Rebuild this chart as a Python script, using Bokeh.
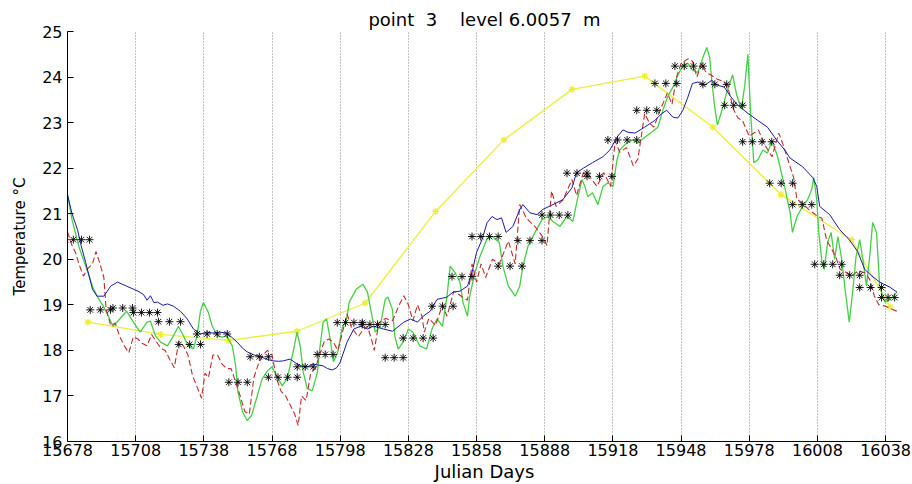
import numpy as np
from bokeh.plotting import figure
from bokeh.models import FixedTicker, Range1d
from bokeh.embed import file_html
from bokeh.resources import INLINE

# ---------------- data ----------------
x_ticks = [15678, 15708, 15738, 15768, 15798, 15828, 15858, 15888, 15918, 15948, 15978, 16008, 16038]
y_ticks = [16, 17, 18, 19, 20, 21, 22, 23, 24, 25]

blue_day = [15678, 15680, 15682.4, 15684, 15686, 15689, 15691, 15694, 15697, 15700, 15704, 15709, 15711.4, 15713,
            15714.5, 15716, 15717.6, 15720, 15722, 15724.6, 15727.7, 15730.7, 15733.4, 15736.5, 15739.5, 15742,
            15745, 15748, 15750, 15752.7, 15755, 15757, 15760, 15763, 15766, 15768.5, 15771, 15773, 15776, 15779,
            15781, 15783.5, 15786, 15788, 15790.5, 15792.5, 15794.5, 15796.5, 15798, 15801, 15804, 15807, 15810,
            15812.5, 15815, 15817, 15821, 15826, 15829, 15832, 15834.5, 15837.6, 15840.6, 15845, 15847.7, 15850.7,
            15854, 15856, 15858, 15860.4, 15862.6, 15864.8, 15867, 15869, 15871, 15874, 15877, 15878.4, 15881.5,
            15884.6, 15887, 15891.6, 15896, 15900, 15902, 15905, 15909, 15913.6, 15916.7, 15919.8, 15922.4, 15924.6,
            15927.7, 15932, 15936.5, 15939.5, 15941.7, 15944.4, 15946.6, 15948.8, 15951, 15953, 15955.4, 15958.4,
            15961.5, 15964, 15967, 15970, 15973, 15977.5, 15981.7, 15986, 15990, 15993.6, 15996, 16001.5, 16006,
            16007.7, 16009, 16013.4, 16017.8, 16022, 16025.7, 16028.8, 16032, 16035.4, 16039.8, 16043]
blue_temp = [21.42, 21.0, 20.65, 20.3, 19.93, 19.34, 19.19, 19.19, 19.41, 19.5, 19.41, 19.3, 19.23, 19.1,
             19.2, 19.05, 19.06, 18.99, 19.02, 18.97, 18.86, 18.69, 18.47, 18.36, 18.4, 18.38,
             18.4, 18.38, 18.3, 18.18, 18.05, 17.97, 17.9, 17.86, 17.8, 17.77, 17.76, 17.77, 17.81, 17.7,
             17.66, 17.64, 17.7, 17.68, 17.66, 17.6, 17.57, 17.62, 17.74, 18.18, 18.47, 18.53, 18.47,
             18.53, 18.5, 18.47, 18.42, 18.62, 18.69, 18.62, 18.75, 18.86, 19.12, 19.17, 19.28, 19.3,
             19.41, 19.71, 20.15, 20.43, 20.8, 20.94, 20.87, 20.91, 20.59, 20.72, 21.09, 21.2, 21.02,
             20.98, 21.09, 21.2, 21.31, 21.57, 21.9, 22.0, 22.12, 22.25, 22.4, 22.68, 22.84, 22.79,
             22.77, 22.9, 23.05, 23.2, 23.27, 23.12, 23.1, 23.27, 23.56, 23.86, 23.89, 23.82,
             23.93, 23.82, 23.78, 23.56, 23.38, 23.2, 23.05, 22.9, 22.62, 22.4, 22.22, 22.03, 21.79,
             21.6, 21.16, 20.98, 20.65, 20.43, 20.17, 19.78, 19.63, 19.5, 19.39, 19.28]

green_day = [15678, 15680, 15683, 15686, 15689, 15691, 15694, 15696, 15698, 15701, 15704, 15707, 15710, 15713,
             15714.5, 15716.7, 15719, 15722, 15724.6, 15726.8, 15729, 15731, 15733.4, 15735, 15736.5, 15737.8,
             15740, 15741.7, 15744, 15746, 15748, 15750.5, 15752, 15753, 15755, 15757, 15759, 15761.5, 15763.7,
             15766, 15768, 15770, 15772.5, 15774.7, 15777.3, 15779, 15780.4, 15781.7, 15783.5, 15785.7, 15788,
             15789, 15790.5, 15792, 15793.6, 15795, 15797, 15799, 15800.5, 15802, 15805, 15808, 15810, 15812,
             15813.4, 15815.6, 15817.8, 15819, 15821, 15822, 15823.5, 15825.7, 15828, 15830, 15833, 15836,
             15838.4, 15840.6, 15843, 15845, 15846.4, 15848.5, 15850.7, 15852, 15854, 15855, 15857.3, 15859.5,
             15862.6, 15865, 15868, 15869.6, 15872, 15875, 15877, 15878.4, 15880.6, 15883.7, 15886.8, 15889.4,
             15891.6, 15894.7, 15897.8, 15900.4, 15902.6, 15904.4, 15905.7, 15907, 15909, 15911.4, 15913.6,
             15915.8, 15918, 15919.8, 15921, 15924, 15926.8, 15929, 15932, 15935, 15937.8, 15940, 15942,
             15944.4, 15946.6, 15948.8, 15951, 15953, 15955.4, 15957.6, 15959.3, 15960.6, 15961.5, 15962.8,
             15964, 15966, 15968, 15969.4, 15970.7, 15972.5, 15974.5, 15976, 15977.4, 15978.5, 15980, 15981.7,
             15984, 15986, 15988, 15990.5, 15993.6, 15996, 15997, 15999, 16001.5, 16003.7, 16005.5, 16006.4,
             16007.7, 16008.6, 16010, 16011, 16012.5, 16014, 16015.6, 16017, 16018.7, 16020, 16022, 16023.5,
             16025, 16026.6, 16028, 16029.6, 16031, 16032.3, 16034, 16035.4, 16037.6, 16040, 16043]
green_temp = [21.42, 20.87, 20.28, 19.85, 19.41, 19.19, 18.95, 18.75, 18.53, 18.69, 18.86, 18.62, 18.4, 18.62,
              18.64, 18.32, 18.18, 18.1, 18.32, 18.53, 18.32, 18.1, 18.03, 18.32, 18.86, 19.05,
              18.83, 18.53, 18.32, 18.29, 18.32, 18.1, 17.66, 17.09, 16.66, 16.46, 16.57, 17.0, 17.38,
              17.55, 17.64, 17.44, 17.22, 17.38, 17.97, 18.4, 18.1, 17.53, 17.16, 17.11, 17.53,
              18.03, 18.62, 18.69, 18.25, 17.75, 17.97, 18.53, 18.6, 19.06, 19.34, 19.45, 19.28, 18.75,
              18.4, 18.53, 19.12, 19.17, 18.9, 18.32, 18.03, 18.18, 18.47, 18.4, 18.1, 18.03,
              18.47, 18.69, 18.53, 19.19, 19.85, 19.71, 19.5, 19.06, 18.75, 19.19, 19.71, 20.06,
              20.45, 20.5, 20.37, 19.85, 19.41, 19.19, 19.41, 19.85, 20.28, 20.59, 20.87, 20.94,
              20.83, 20.72, 20.94, 20.83, 21.37, 21.75, 21.59, 21.37, 21.46, 21.2, 21.59,
              21.68, 21.59, 22.18, 22.4, 22.55, 22.62, 22.55, 22.68, 22.79, 22.9, 23.27, 23.56,
              23.78, 24.04, 24.26, 24.3, 24.15, 24.1, 24.43, 24.65, 24.43, 23.93, 23.34,
              22.95, 23.27, 23.65, 23.86, 24.05, 23.6, 23.3, 23.8, 24.5, 23.3, 22.12, 22.18,
              22.4, 22.33, 22.6, 22.25, 21.59, 21.02, 20.59, 20.94, 21.16, 21.31, 21.53, 21.79,
              21.31, 20.59, 19.93, 19.78, 20.37, 20.59, 20.0, 20.5, 20.0, 19.41, 18.62, 19.28,
              20.06, 20.43, 20.0, 19.41, 20.06, 20.81, 20.59, 19.41, 19.06, 19.12, 19.28]

red_day = [15678, 15680, 15681.5, 15683, 15685, 15687, 15689, 15690.5, 15692, 15694, 15695, 15697, 15699, 15701,
           15703, 15705, 15707, 15709, 15711, 15713, 15715, 15717, 15719, 15721, 15723, 15725, 15727, 15729,
           15731, 15733, 15735, 15737, 15738.5, 15740, 15742, 15744, 15746, 15748, 15750, 15752, 15754, 15756,
           15758, 15760, 15762, 15764, 15766, 15768, 15770, 15772, 15774, 15776, 15778, 15779.5, 15781, 15783,
           15785, 15787, 15789, 15791, 15793, 15795, 15797, 15799, 15801, 15803, 15806, 15808, 15810, 15812,
           15813, 15815, 15818, 15821, 15824, 15826, 15828, 15830, 15832, 15834, 15835, 15837, 15840, 15843,
           15845, 15848, 15851, 15854, 15856, 15858, 15860, 15862, 15865, 15868, 15872, 15875, 15877, 15880,
           15882, 15884, 15887, 15889, 15891, 15893, 15896, 15900, 15902, 15905, 15908, 15911, 15914, 15917,
           15919, 15921, 15924, 15927, 15929, 15932, 15934, 15936, 15939, 15942, 15944, 15946, 15948, 15951,
           15953, 15955, 15957, 15959, 15961, 15964, 15967, 15969, 15971, 15973, 15975, 15978, 15982, 15985,
           15988, 15991, 15993, 15996, 15997.5, 15999, 16001, 16004, 16006, 16008, 16010, 16012, 16014, 16016,
           16018, 16021, 16023, 16026, 16029, 16031, 16033, 16035, 16038, 16041, 16044]
red_temp = [20.6, 20.3, 20.15, 19.9, 19.63, 19.8, 19.9, 20.17, 19.95, 19.6, 18.9, 18.55, 18.6, 18.3,
            18.1, 17.95, 18.3, 18.25, 18.15, 18.1, 18.35, 18.2, 18.05, 18.0, 17.8, 17.62, 18.2, 18.1,
            17.9, 17.45, 17.2, 16.95, 17.5, 17.4, 17.9, 17.9, 17.7, 17.6, 17.6, 17.3, 17.0, 16.66,
            16.6, 17.4, 17.7, 17.9, 18.0, 17.9, 17.38, 17.1, 17.0, 16.8, 16.6, 16.35, 17.0, 16.9,
            17.5, 17.6, 17.9, 18.2, 18.25, 18.18, 18.0, 18.4, 18.8, 18.5, 18.3, 18.45, 18.53, 18.2,
            18.0, 18.6, 18.7, 18.65, 19.0, 19.2, 19.0, 18.65, 19.0, 18.75, 18.4, 18.7, 18.55, 19.0,
            18.75, 19.3, 19.2, 19.1, 19.9, 19.5, 19.9, 19.6, 20.0, 19.9, 20.4, 19.9, 21.2, 20.9,
            20.8, 20.7, 20.5, 20.3, 21.5, 21.16, 21.3, 21.75, 21.4, 21.9, 21.8, 21.6, 21.9, 21.6,
            22.6, 22.35, 22.45, 22.05, 22.2, 23.2, 23.0, 22.9, 23.3, 23.65, 23.4, 24.0, 24.3, 24.4,
            24.35, 24.0, 24.3, 24.1, 24.05, 23.95, 23.9, 23.7, 23.3, 23.1, 23.05, 22.7, 22.84, 22.5,
            22.25, 22.77, 22.5, 22.03, 21.8, 21.31, 21.25, 21.1, 21.02, 20.95, 20.9, 20.43, 20.25, 20.06,
            19.78, 19.7, 19.63, 19.75, 19.7, 19.56, 19.2, 19.0, 18.97, 18.9, 18.84]

yellow_day = [15687, 15719, 15749, 15779, 15809, 15840, 15870, 15900, 15932, 15962, 15992, 16023, 16040]
yellow_temp = [18.62, 18.35, 18.22, 18.42, 19.04, 21.05, 22.62, 23.73, 24.02, 22.9, 21.42, 20.43, 18.95]

# observation groups: first day, last day, temperature, number of asterisks
obs_start = [15677, 15688, 15698, 15707, 15718, 15727, 15735, 15749, 15758.4, 15766.4, 15779.1, 15787.9,
             15796.7, 15807.7, 15817.8, 15825.7, 15838.4, 15847.2, 15856, 15867.5, 15876.2, 15886.8, 15897.8,
             15906.6, 15915.8, 15928.5, 15936.5, 15945.3, 15957.6, 15967.2, 15975.1, 15987, 15997.1, 16006.8,
             16017.8, 16026.6, 16036.2]
obs_end = [15687.7, 15696.9, 15706.6, 15717.6, 15727.7, 15736.5, 15748.3, 15757.1, 15766.4, 15779.1, 15786.1,
           15794.9, 15807.7, 15817.8, 15825.7, 15838.9, 15847.7, 15856, 15867.5, 15878, 15886.8, 15898.2, 15906.6,
           15917.6, 15928.5, 15937.3, 15946.1, 15957.6, 15968.1, 15975.1, 15987.9, 15997.1, 16005.5, 16018.7,
           16026.6, 16036.2, 16042]
obs_temp = [20.43, 18.89, 18.93, 18.83, 18.63, 18.13, 18.36, 17.30, 17.86, 17.41, 17.64, 17.91,
            18.61, 18.57, 17.84, 18.27, 18.97, 19.62, 20.5, 19.85, 20.41, 20.97, 21.89,
            21.82, 22.62, 23.27, 23.86, 24.24, 23.84, 23.38, 22.58, 21.67, 21.2, 19.89,
            19.65, 19.38, 19.16]
obs_count = [4, 3, 3, 4, 3, 3, 4, 3, 3, 4, 3, 3, 4, 4, 3, 4, 3, 3, 4, 3, 3, 4, 3, 3, 4, 3, 3, 4, 3, 3, 4,
             3, 3, 4, 3, 3, 3]

NB = "\u00a0"
title_text = "point" + NB + " 3" + NB * 3 + " level 6.0057" + NB + " m"
x_label = "Julian Days"
y_label = "Temperature \u00b0C"

# ---------------- figure ----------------
FONT = "DejaVu Sans"
p = figure(width=912, height=484, output_backend="svg", toolbar_location=None,
           x_range=Range1d(15678, 16045), y_range=Range1d(16, 25),
           min_border_left=67, min_border_right=11, min_border_top=31, min_border_bottom=41)
p.background_fill_color = "white"
p.border_fill_color = "white"
p.outline_line_color = None

p.title.text = title_text
p.title.align = "center"
p.title.text_font = FONT
p.title.text_font_size = "18px"
p.title.text_font_style = "normal"
p.title.text_color = "black"
p.title.standoff = 3

p.xaxis.ticker = FixedTicker(ticks=x_ticks)
p.yaxis.ticker = FixedTicker(ticks=y_ticks)
for ax in (p.xaxis, p.yaxis):
    ax.major_tick_in = 6
    ax.major_tick_out = 0
    ax.minor_tick_line_color = None
    ax.axis_line_color = "black"
    ax.major_tick_line_color = "black"
    ax.major_label_text_font = FONT
    ax.major_label_text_font_size = "16px"
    ax.major_label_text_color = "black"
    ax.axis_label_text_font = FONT
    ax.axis_label_text_font_style = "normal"
    ax.axis_label_text_color = "black"
p.xaxis.axis_label = x_label
p.yaxis.axis_label = y_label
p.xaxis.axis_label_text_font_size = "18px"
p.yaxis.axis_label_text_font_size = "15px"
p.xaxis.major_label_standoff = 2
p.xaxis.axis_label_standoff = 2
p.yaxis.major_label_standoff = 5
p.yaxis.axis_label_standoff = 10

p.ygrid.visible = False
p.xgrid.ticker = FixedTicker(ticks=x_ticks)
p.xgrid.grid_line_color = "#888888"
p.xgrid.grid_line_dash = "1 2"
p.xgrid.grid_line_width = 1

# yellow series with star markers
p.line(yellow_day, yellow_temp, line_color="#eeee3a", line_width=1.3)
p.scatter(yellow_day, yellow_temp, marker="asterisk", size=7, line_color="#eeee3a", line_width=1.3)
# model / data lines
p.line(green_day, green_temp, line_color="#45d045", line_width=1.3)
p.line(red_day, red_temp, line_color="#c42a2a", line_width=1.1, line_dash="6 3")
p.line(blue_day, blue_temp, line_color="#1a1aa8", line_width=1.0)

# black asterisk observations
ox, oy = [], []
for s, e, t, n in zip(obs_start, obs_end, obs_temp, obs_count):
    for d in np.linspace(s, e, n):
        ox.append(float(d))
        oy.append(t)
p.scatter(ox, oy, marker="asterisk", size=8, line_color="black", line_width=0.9)

open("out.html", "w").write(file_html(p, INLINE))
